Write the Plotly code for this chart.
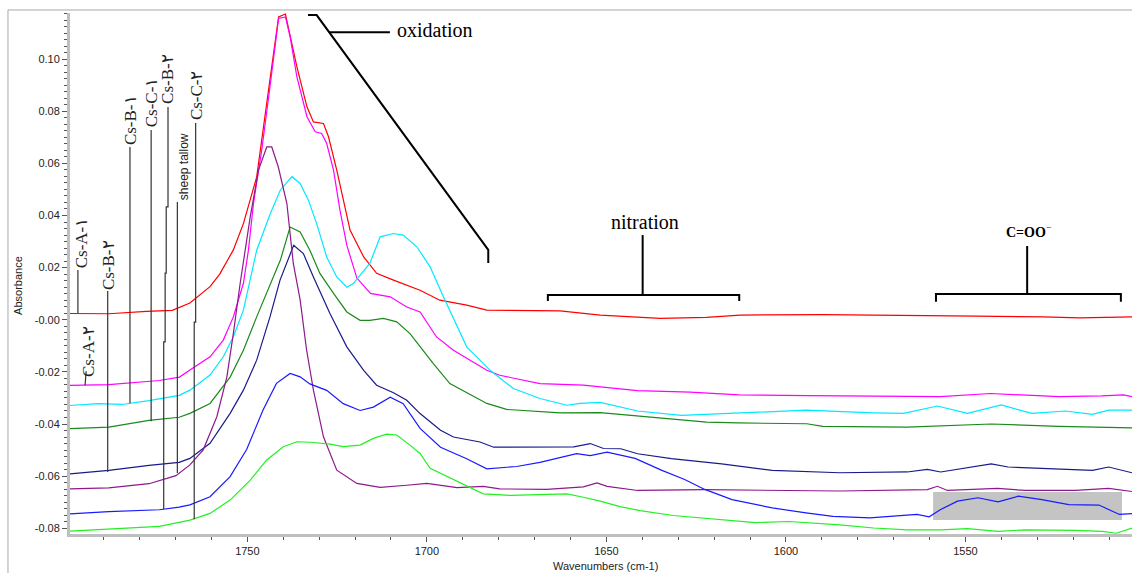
import plotly.graph_objects as go

# ---------------- data (wavenumber cm-1, absorbance) ----------------
csA1_x = [1799.4, 1788.6, 1778.1, 1770.9, 1766.0, 1760.4, 1757.7, 1753.9, 1751.1, 1747.4, 1743.6, 1741.3, 1739.4,
          1738.1, 1736.2, 1733.4, 1731.6, 1728.8, 1727.4, 1725.1, 1723.3, 1721.4, 1717.6, 1714.0, 1709.3, 1701.9,
          1696.4, 1688.9, 1683.3, 1662.9, 1651.7, 1635.0, 1622.1, 1612.8, 1589.6, 1565.5, 1546.9, 1528.3, 1518.2, 1503.6]
csA1_y = [0.0024, 0.0023, 0.0032, 0.0036, 0.0064, 0.0127, 0.0175, 0.0268, 0.0369, 0.0548, 0.0932, 0.1162, 0.1173,
          0.1086, 0.0970, 0.0817, 0.0759, 0.0753, 0.0702, 0.0574, 0.0459, 0.0344, 0.0241, 0.0178, 0.0152, 0.0113,
          0.0075, 0.0056, 0.0037, 0.0034, 0.0018, 0.0005, 0.0009, 0.0018, 0.0020, 0.0018, 0.0014, 0.0011, 0.0007, 0.0011]

csA2_x = [1799.4, 1788.6, 1774.5, 1768.9, 1766.0, 1760.4, 1756.7, 1753.9, 1751.1, 1749.7, 1748.3, 1746.0, 1743.7,
          1741.3, 1739.4, 1738.1, 1736.2, 1733.4, 1731.1, 1729.3, 1727.9, 1726.0, 1724.2, 1722.3, 1719.5, 1715.7,
          1710.2, 1705.6, 1701.9, 1697.3, 1692.6, 1683.3, 1679.7, 1668.5, 1656.4, 1641.4, 1626.7, 1613.0, 1594.0,
          1585.0, 1557.0, 1543.0, 1524.0, 1512.0, 1506.0, 1503.6]
csA2_y = [-0.0252, -0.0249, -0.0233, -0.0220, -0.0193, -0.0142, -0.0078, 0.0011, 0.0140, 0.0267, 0.0446, 0.0651, 0.0894,
          0.1156, 0.1162, 0.1086, 0.0932, 0.0779, 0.0721, 0.0715, 0.0676, 0.0574, 0.0420, 0.0286, 0.0160, 0.0101,
          0.0088, 0.0049, 0.0030, -0.0066, -0.0117, -0.0194, -0.0213, -0.0245, -0.0251, -0.0272, -0.0278, -0.0288, -0.0291,
          -0.0292, -0.0295, -0.0283, -0.0295, -0.0292, -0.0288, -0.0295]

csB1_x = [1799.4, 1791.5, 1784.9, 1777.4, 1769.0, 1766.0, 1760.4, 1756.7, 1753.9, 1751.1, 1747.4, 1743.6, 1740.8,
          1737.6, 1735.3, 1733.0, 1730.7, 1727.9, 1725.1, 1722.3, 1720.5, 1715.9, 1713.0, 1709.3, 1706.6, 1702.8,
          1699.1, 1695.4, 1688.9, 1682.4, 1675.9, 1668.5, 1661.0, 1657.3, 1651.7, 1641.3, 1629.1, 1613.2, 1594.4,
          1575.6, 1567.2, 1557.8, 1549.4, 1540.0, 1531.5, 1522.1, 1514.6, 1510.1, 1503.6]
csB1_y = [-0.0329, -0.0322, -0.0325, -0.0310, -0.0290, -0.0270, -0.0212, -0.0142, -0.0065, 0.0037, 0.0267, 0.0408, 0.0498,
          0.0549, 0.0523, 0.0459, 0.0369, 0.0241, 0.0164, 0.0125, 0.0139, 0.0216, 0.0318, 0.0331, 0.0325, 0.0280,
          0.0203, 0.0088, -0.0104, -0.0194, -0.0264, -0.0302, -0.0328, -0.0321, -0.0317, -0.0350, -0.0367, -0.0357, -0.0347,
          -0.0357, -0.0359, -0.0331, -0.0359, -0.0327, -0.0359, -0.0350, -0.0363, -0.0347, -0.0347]

csC1_x = [1799.4, 1788.6, 1777.4, 1769.0, 1766.0, 1760.4, 1754.8, 1751.1, 1747.4, 1743.6, 1740.8, 1738.1, 1735.3,
          1732.6, 1729.8, 1726.0, 1722.3, 1718.6, 1715.9, 1712.1, 1708.4, 1704.7, 1701.9, 1698.2, 1693.6, 1683.3,
          1677.8, 1662.9, 1651.7, 1635.0, 1622.1, 1613.2, 1594.2, 1589.7, 1566.2, 1542.8, 1524.0, 1503.6]
csC1_y = [-0.0418, -0.0412, -0.0386, -0.0374, -0.0359, -0.0321, -0.0220, -0.0117, 0.0011, 0.0139, 0.0229, 0.0356, 0.0337,
          0.0267, 0.0178, 0.0101, 0.0030, -0.0002, -0.0002, 0.0005, -0.0008, -0.0053, -0.0104, -0.0168, -0.0245, -0.0321,
          -0.0344, -0.0357, -0.0356, -0.0378, -0.0393, -0.0396, -0.0399, -0.0409, -0.0412, -0.0400, -0.0409, -0.0415]

csB2_x = [1799.4, 1788.6, 1777.4, 1769.0, 1766.0, 1760.4, 1754.8, 1751.1, 1747.4, 1743.7, 1740.9, 1737.1, 1734.4,
          1731.6, 1727.0, 1722.3, 1717.6, 1714.0, 1709.3, 1705.6, 1701.9, 1696.2, 1692.6, 1685.2, 1681.4, 1666.6,
          1659.1, 1654.5, 1650.8, 1646.0, 1641.3, 1631.9, 1617.9, 1603.8, 1585.0, 1566.2, 1560.6, 1556.9, 1542.8,
          1538.1, 1519.3, 1514.6, 1510.1, 1503.6]
csB2_y = [-0.0591, -0.0578, -0.0559, -0.0547, -0.0532, -0.0474, -0.0359, -0.0270, -0.0155, 0.0011, 0.0152, 0.0286, 0.0254,
          0.0164, 0.0024, -0.0104, -0.0194, -0.0251, -0.0280, -0.0309, -0.0360, -0.0424, -0.0450, -0.0469, -0.0489, -0.0490,
          -0.0488, -0.0475, -0.0494, -0.0495, -0.0514, -0.0533, -0.0553, -0.0578, -0.0587, -0.0584, -0.0574, -0.0584, -0.0553,
          -0.0565, -0.0574, -0.0578, -0.0565, -0.0587]

tallow_x = [1799.4, 1788.6, 1777.4, 1769.9, 1766.0, 1762.3, 1758.5, 1755.7, 1753.9, 1752.0, 1749.2, 1746.9, 1744.6,
            1743.2, 1741.4, 1739.0, 1737.2, 1735.3, 1733.5, 1731.6, 1728.8, 1725.1, 1719.5, 1713.0, 1705.6, 1700.0,
            1691.6, 1684.3, 1679.7, 1666.6, 1656.4, 1652.6, 1649.8, 1641.3, 1622.6, 1585.0, 1560.6, 1557.8, 1555.0,
            1541.0, 1533.4, 1519.3, 1510.1, 1503.6]
tallow_y = [-0.0649, -0.0645, -0.0629, -0.0598, -0.0557, -0.0499, -0.0372, -0.0219, -0.0052, 0.0140, 0.0395, 0.0574, 0.0663,
            0.0663, 0.0587, 0.0447, 0.0216, 0.0076, -0.0116, -0.0270, -0.0449, -0.0577, -0.0628, -0.0643, -0.0635, -0.0628,
            -0.0644, -0.0639, -0.0649, -0.0651, -0.0641, -0.0626, -0.0639, -0.0655, -0.0652, -0.0657, -0.0652, -0.0639, -0.0655,
            -0.0647, -0.0655, -0.0655, -0.0647, -0.0659]

csB2b_x = [1799.4, 1788.6, 1774.5, 1769.0, 1766.0, 1760.4, 1754.8, 1750.2, 1745.6, 1741.9, 1738.1, 1735.3, 1732.6,
           1727.9, 1723.3, 1718.6, 1714.9, 1710.2, 1706.6, 1701.9, 1696.2, 1688.9, 1683.3, 1675.0, 1668.5, 1658.3,
           1654.5, 1649.8, 1642.0, 1634.7, 1628.2, 1622.6, 1615.0, 1603.8, 1594.4, 1586.9, 1576.6, 1569.1, 1563.5,
           1560.1, 1556.9, 1552.2, 1546.5, 1540.9, 1535.3, 1528.7, 1521.2, 1512.8, 1507.1, 1503.6]
csB2b_y = [-0.0745, -0.0736, -0.0729, -0.0719, -0.0710, -0.0679, -0.0602, -0.0498, -0.0345, -0.0244, -0.0206, -0.0219, -0.0246,
           -0.0271, -0.0322, -0.0348, -0.0335, -0.0297, -0.0322, -0.0417, -0.0489, -0.0533, -0.0572, -0.0563, -0.0547, -0.0514,
           -0.0521, -0.0508, -0.0532, -0.0577, -0.0613, -0.0651, -0.0690, -0.0722, -0.0741, -0.0754, -0.0760, -0.0751, -0.0747,
           -0.0756, -0.0728, -0.0696, -0.0683, -0.0699, -0.0677, -0.0690, -0.0709, -0.0711, -0.0747, -0.0744]

csC2_x = [1799.4, 1788.6, 1774.5, 1766.0, 1760.4, 1754.8, 1749.2, 1744.6, 1740.0, 1736.2, 1732.5, 1726.9, 1723.3,
          1718.6, 1714.9, 1711.2, 1708.4, 1704.7, 1701.9, 1699.1, 1693.6, 1684.3, 1676.8, 1661.0, 1656.4, 1651.7,
          1646.2, 1640.6, 1631.4, 1617.9, 1608.5, 1599.1, 1585.0, 1575.6, 1566.2, 1556.9, 1549.4, 1540.9, 1533.4,
          1519.3, 1511.8, 1508.0, 1503.6]
csC2_y = [-0.0811, -0.0802, -0.0793, -0.0769, -0.0743, -0.0692, -0.0615, -0.0538, -0.0487, -0.0468, -0.0470, -0.0477, -0.0487,
          -0.0481, -0.0455, -0.0439, -0.0442, -0.0481, -0.0513, -0.0570, -0.0607, -0.0668, -0.0674, -0.0668, -0.0681, -0.0696,
          -0.0717, -0.0732, -0.0751, -0.0768, -0.0778, -0.0774, -0.0787, -0.0799, -0.0806, -0.0806, -0.0801, -0.0812, -0.0806,
          -0.0808, -0.0812, -0.0819, -0.0799]

series = [
    ("Cs-A-1", csA1_x, csA1_y, "#ff0000"),
    ("Cs-A-2", csA2_x, csA2_y, "#ff00ff"),
    ("Cs-B-1", csB1_x, csB1_y, "#00e8ff"),
    ("Cs-C-1", csC1_x, csC1_y, "#1a8a1a"),
    ("Cs-B-2", csB2_x, csB2_y, "#1a1a8c"),
    ("sheep tallow", tallow_x, tallow_y, "#8c1a8c"),
    ("Cs-B-2b", csB2b_x, csB2b_y, "#1a1aff"),
    ("Cs-C-2", csC2_x, csC2_y, "#22f022"),
]

x_ticks = [1750, 1700, 1650, 1600, 1550]
y_ticks = [-0.08, -0.06, -0.04, -0.02, 0.0, 0.02, 0.04, 0.06, 0.08, 0.10]
y_ticktext = ["-0.08", "-0.06", "-0.04", "-0.02", "-0.00", "0.02", "0.04", "0.06", "0.08", "0.10"]

X_RANGE = [1799.4, 1503.6]
Y_RANGE = [-0.0822, 0.1177]

# highlighted region (gray box) in data units
box_x = [1559.0, 1506.4]
box_y = [-0.0768, -0.0661]

# sample labels: text, x, y (centre), font family, size
labels = [
    ("Cs-A-۱", 1796.3, 0.0294, "Liberation Serif", 17),
    ("Cs-B-۲", 1788.8, 0.0210, "Liberation Serif", 17),
    ("Cs-A-۲", 1794.4, -0.0120, "Liberation Serif", 17),
    ("Cs-B-۱", 1782.7, 0.0766, "Liberation Serif", 17),
    ("Cs-C-۱", 1776.8, 0.0835, "Liberation Serif", 17),
    ("Cs-B-۲", 1772.1, 0.0924, "Liberation Serif", 17),
    ("sheep tallow", 1767.6, 0.0586, "Liberation Sans", 12),
    ("Cs-C-۲", 1764.3, 0.0862, "Liberation Serif", 17),
]
# leader lines (polylines) from labels to curves
leaders = [
    [(1797.2, 0.0191), (1797.2, 0.0026)],
    [(1788.9, 0.0110), (1788.9, -0.0584)],
    [(1794.9, -0.0197), (1795.2, -0.0251)],
    [(1782.7, 0.0663), (1782.7, -0.0320)],
    [(1776.8, 0.0728), (1776.8, -0.0389)],
    [(1772.1, 0.0816), (1772.1, 0.0433), (1772.6, 0.0433), (1772.6, 0.0179), (1772.9, 0.0179),
     (1772.9, -0.0085), (1773.3, -0.0085), (1773.3, -0.0726)],
    [(1769.5, 0.0452), (1769.5, -0.0588)],
    [(1764.4, 0.0755), (1764.4, -0.0009), (1764.8, -0.0009), (1764.8, -0.0765)],
]

# region brackets
oxid_bracket = [(1733.1, 0.1169), (1730.7, 0.1169), (1682.9, 0.0268), (1682.9, 0.0218)]
oxid_pointer = [(1727.2, 0.1103), (1710.3, 0.1103)]
oxid_text = ("oxidation", 1709.0, 0.1112)
nitr_bracket = [(1666.3, 0.0072), (1666.3, 0.0095), (1613.0, 0.0095), (1613.0, 0.0072)]
nitr_stem = [(1639.9, 0.0095), (1639.9, 0.0325)]
nitr_text = ("nitration", 1639.3, 0.0375)
coo_bracket = [(1558.2, 0.0069), (1558.2, 0.0099), (1506.7, 0.0099), (1506.7, 0.0069)]
coo_stem = [(1532.8, 0.0099), (1532.8, 0.0283)]
coo_text = ("<b>C=OO</b><sup>−</sup>", 1532.2, 0.0340)

# ---------------- figure ----------------
fig = go.Figure()

def path_of(pts):
    return "M " + " L ".join(f"{x},{y}" for x, y in pts)

fig.add_shape(type="rect", xref="x", yref="y", x0=box_x[0], x1=box_x[1], y0=box_y[0], y1=box_y[1],
              fillcolor="#c4c4c4", line=dict(width=0), layer="below")

for name, xs, ys, col in series:
    fig.add_trace(go.Scatter(x=xs, y=ys, mode="lines", name=name,
                             line=dict(color=col, width=1.2), showlegend=False))

for pts in leaders:
    fig.add_shape(type="path", xref="x", yref="y", path=path_of(pts), line=dict(color="#333333", width=1.2))

for pts in [oxid_bracket, oxid_pointer, nitr_bracket, nitr_stem, coo_bracket, coo_stem]:
    fig.add_shape(type="path", xref="x", yref="y", path=path_of(pts), line=dict(color="#000000", width=2))

for text, x, y, fam, size in labels:
    fig.add_annotation(x=x, y=y, xref="x", yref="y", text=text, textangle=-90, showarrow=False,
                       xanchor="center", yanchor="middle", font=dict(family=fam, size=size, color="#222222"))

fig.add_annotation(x=oxid_text[1], y=oxid_text[2], xref="x", yref="y", text=oxid_text[0], showarrow=False,
                   xanchor="left", yanchor="middle", font=dict(family="Liberation Serif", size=20, color="#000"))
fig.add_annotation(x=nitr_text[1], y=nitr_text[2], xref="x", yref="y", text=nitr_text[0], showarrow=False,
                   xanchor="center", yanchor="middle", font=dict(family="Liberation Serif", size=20, color="#000"))
fig.add_annotation(x=coo_text[1], y=coo_text[2], xref="x", yref="y", text=coo_text[0], showarrow=False,
                   xanchor="center", yanchor="middle", font=dict(family="Liberation Serif", size=14, color="#000"))

# axis titles
fig.add_annotation(x=-0.049, y=0.478, xref="paper", yref="paper", text="Absorbance", textangle=-90,
                   showarrow=False, xanchor="center", yanchor="middle",
                   font=dict(family="Liberation Sans", size=11, color="#222"))
fig.add_annotation(x=0.504, y=-0.0614, xref="paper", yref="paper", text="Wavenumbers (cm-1)",
                   showarrow=False, xanchor="center", yanchor="middle",
                   font=dict(family="Liberation Sans", size=11, color="#222"))

# outer frame
fig.add_shape(type="rect", xref="paper", yref="paper", x0=-0.0584, x1=1.05, y0=-0.2, y1=1.0058,
              line=dict(color="#a8a8a8", width=1))

fig.update_xaxes(range=X_RANGE, tickvals=x_ticks, ticks="outside", ticklen=5, tickwidth=1, tickcolor="#555",
                 showline=True, linecolor="#bfbfbf", linewidth=3, showgrid=False, zeroline=False,
                 tickfont=dict(family="Liberation Sans", size=11, color="#222"),
                 minor=dict(dtick=10, tick0=1500, ticks="outside", ticklen=3, tickcolor="#555", showgrid=False))
fig.update_yaxes(range=Y_RANGE, tickvals=y_ticks, ticktext=y_ticktext, ticks="outside", ticklen=5, tickwidth=1,
                 tickcolor="#555", showline=True, linecolor="#bfbfbf", linewidth=3, showgrid=False, zeroline=False,
                 tickfont=dict(family="Liberation Sans", size=11, color="#222"),
                 minor=dict(dtick=0.0025, tick0=0, ticks="outside", ticklen=3, tickcolor="#555", showgrid=False))

fig.update_layout(width=1132, height=573, margin=dict(l=70, r=0, t=13, b=39),
                  plot_bgcolor="white", paper_bgcolor="white")

fig.write_html("out.html", config={"displayModeBar": False},
               post_script="document.body.style.margin='0';document.body.style.overflow='hidden';")
